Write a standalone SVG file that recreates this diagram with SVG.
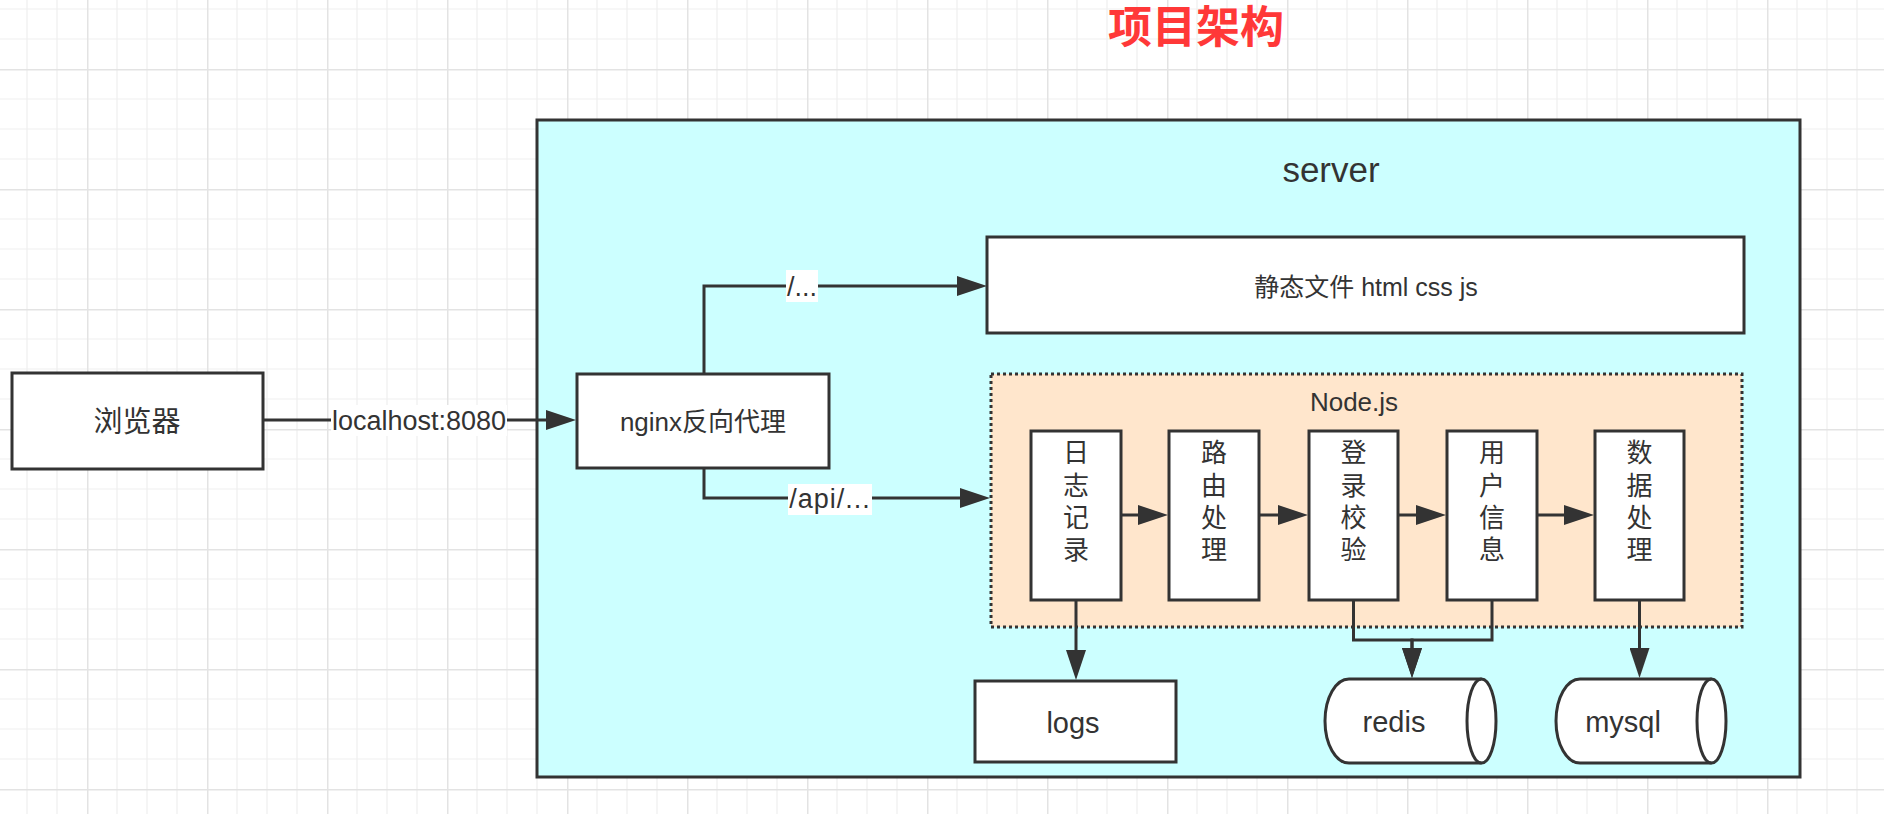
<svg xmlns="http://www.w3.org/2000/svg" width="1884" height="814" viewBox="0 0 1884 814">
<defs>
  <pattern id="grid" x="-33" y="-51" width="120" height="120" patternUnits="userSpaceOnUse">
    <path d="M30,0V120M60,0V120M90,0V120M0,30H120M0,60H120M0,90H120" stroke="#efefef" stroke-width="1.2" fill="none"/>
    <path d="M0.75,0V120M0,0.75H120" stroke="#e3e3e3" stroke-width="1.5" fill="none"/>
  </pattern>
  <marker id="arr" markerUnits="userSpaceOnUse" markerWidth="30" markerHeight="20" refX="20" refY="10" orient="auto">
    <path d="M0,0L30,10L0,20Z" fill="#333"/>
  </marker>
  <style>
    .box{fill:#fff;stroke:#333;stroke-width:3}
    .t{font-family:"Liberation Sans","Noto Sans CJK SC",sans-serif;fill:#333;text-anchor:middle}
    .edge{fill:none;stroke:#333;stroke-width:3;marker-end:url(#arr)}
    .lbg{fill:#fff}
  </style>
</defs>
<rect width="1884" height="814" fill="#fff"/>
<rect width="1884" height="814" fill="url(#grid)"/>

<text id="title" class="t" x="1196" y="43" font-size="44" font-weight="bold" style="fill:#ff3838">项目架构</text>

<g id="server">
  <rect x="537" y="120" width="1263" height="657" fill="#ccffff" stroke="#333" stroke-width="3"/>
  <text class="t" x="1331" y="182" font-size="35">server</text>
</g>

<g id="browser">
  <rect class="box" x="12" y="373" width="251" height="96"/>
  <text class="t" x="137" y="432" font-size="29">浏览器</text>
</g>

<g id="nginx">
  <rect class="box" x="577" y="374" width="252" height="94"/>
  <text class="t" x="703" y="431" font-size="26">nginx反向代理</text>
</g>

<g id="static">
  <rect class="box" x="987" y="237" width="757" height="96"/>
  <text class="t" x="1366" y="296" font-size="25">静态文件 html css js</text>
</g>

<g id="nodejs">
  <rect x="991" y="374" width="751" height="253" fill="#ffe6cc" stroke="#333" stroke-width="3" stroke-dasharray="3 3"/>
  <text class="t" x="1354" y="411" font-size="26">Node.js</text>
</g>

<g id="log">
  <rect class="box" x="1031" y="431" width="90" height="169"/>
  <text class="t" font-size="26"><tspan x="1076" y="462">日</tspan><tspan x="1076" y="495">志</tspan><tspan x="1076" y="527">记</tspan><tspan x="1076" y="559">录</tspan></text>
</g>
<g id="route">
  <rect class="box" x="1169" y="431" width="90" height="169"/>
  <text class="t" font-size="26"><tspan x="1214" y="462">路</tspan><tspan x="1214" y="495">由</tspan><tspan x="1214" y="527">处</tspan><tspan x="1214" y="559">理</tspan></text>
</g>
<g id="login">
  <rect class="box" x="1309" y="431" width="89" height="169"/>
  <text class="t" font-size="26"><tspan x="1353.5" y="462">登</tspan><tspan x="1353.5" y="495">录</tspan><tspan x="1353.5" y="527">校</tspan><tspan x="1353.5" y="559">验</tspan></text>
</g>
<g id="user">
  <rect class="box" x="1447" y="431" width="90" height="169"/>
  <text class="t" font-size="26"><tspan x="1492" y="462">用</tspan><tspan x="1492" y="495">户</tspan><tspan x="1492" y="527">信</tspan><tspan x="1492" y="559">息</tspan></text>
</g>
<g id="data">
  <rect class="box" x="1595" y="431" width="89" height="169"/>
  <text class="t" font-size="26"><tspan x="1639.5" y="462">数</tspan><tspan x="1639.5" y="495">据</tspan><tspan x="1639.5" y="527">处</tspan><tspan x="1639.5" y="559">理</tspan></text>
</g>

<g id="logs">
  <rect class="box" x="975" y="681" width="201" height="81"/>
  <text class="t" x="1073" y="733" font-size="29">logs</text>
</g>

<g id="redis">
  <path class="box" d="M1349,679H1481.5A14.5,42 0 0 1 1481.5,763H1349A24,42 0 0 1 1349,679Z"/>
  <path d="M1481.5,679A14.5,42 0 0 0 1481.5,763" fill="none" stroke="#333" stroke-width="3"/>
  <text class="t" x="1394" y="732" font-size="29">redis</text>
</g>

<g id="mysql">
  <path class="box" d="M1580,679H1711.5A14.5,42 0 0 1 1711.5,763H1580A24,42 0 0 1 1580,679Z"/>
  <path d="M1711.5,679A14.5,42 0 0 0 1711.5,763" fill="none" stroke="#333" stroke-width="3"/>
  <text class="t" x="1623" y="732" font-size="29">mysql</text>
</g>

<g id="connectors">
  <path class="edge" d="M264,420H566"/>
  <path class="edge" d="M704,373V286H977"/>
  <path class="edge" d="M704,469V498H980"/>
  <path class="edge" d="M1121,515H1158"/>
  <path class="edge" d="M1259,515H1298"/>
  <path class="edge" d="M1398,515H1436"/>
  <path class="edge" d="M1537,515H1584"/>
  <path class="edge" d="M1076,600V670"/>
  <path class="edge" d="M1353.5,600V640H1412V668"/>
  <path class="edge" d="M1492,600V640H1412V668"/>
  <path class="edge" d="M1639.5,600V668"/>
  <rect class="lbg" x="331" y="405" width="176" height="31"/>
  <text class="t" x="419" y="430" font-size="27">localhost:8080</text>
  <rect class="lbg" x="786" y="270" width="32" height="32"/>
  <text class="t" x="802" y="296" font-size="27">/...</text>
  <rect class="lbg" x="788" y="484" width="84" height="31"/>
  <text class="t" x="830" y="508" font-size="27" letter-spacing="1">/api/...</text>
</g>
</svg>
